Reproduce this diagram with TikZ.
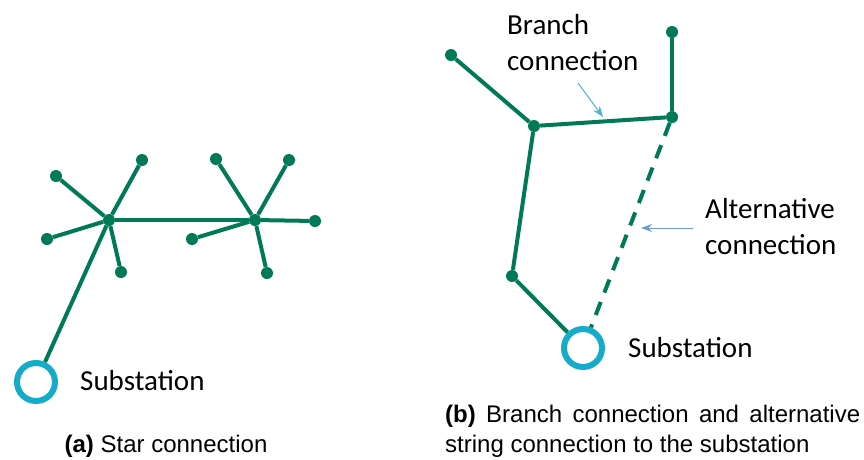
\documentclass[tikz,border=0pt]{standalone}
\usepackage{fontspec}
\setmainfont{Carlito}
\newfontfamily\capfont{Liberation Sans}
\usetikzlibrary{arrows.meta}
\definecolor{netgreen}{RGB}{0,122,86}
\definecolor{subcyan}{RGB}{20,172,200}
\definecolor{annocyan}{RGB}{70,180,210}
\definecolor{annoblue}{RGB}{110,155,215}
\tikzset{
  dot/.style={circle,fill=netgreen,inner sep=0pt,minimum size=12pt},
  edge/.style={draw=netgreen,line width=4pt},
  dashedge/.style={draw=netgreen,line width=4pt,dash pattern=on 14pt off 10pt},
  sub/.style={circle,draw=subcyan,line width=6pt,minimum size=38pt,inner sep=0pt},
  lbl/.style={inner sep=0pt,font=\fontsize{29}{36}\selectfont,align=left},
  captext/.style={inner sep=0pt,font=\capfont\fontsize{24}{29.5}\selectfont,align=left},
  annot/.style={line width=1pt,-{Stealth[length=11pt,width=8pt]}}
}
\begin{document}
\begin{tikzpicture}[x=1pt,y=-1pt]
\useasboundingbox (0,0) rectangle (864,459);
% ---------- (a) star ----------
\node[dot] (h1) at (109,220) {};
\node[dot] (h2) at (255,220) {};
\node[dot] (a1) at (56,176) {};
\node[dot] (a2) at (142,160) {};
\node[dot] (a3) at (47,239) {};
\node[dot] (a4) at (121,272) {};
\node[dot] (b1) at (216,159) {};
\node[dot] (b2) at (289,160) {};
\node[dot] (b3) at (315,221) {};
\node[dot] (b4) at (192,239) {};
\node[dot] (b5) at (267,273) {};
\node[sub] (sa) at (36,382) {};
\draw[edge] (h1) -- (h2);
\foreach \n in {a1,a2,a3,a4} \draw[edge] (h1) -- (\n);
\foreach \n in {b1,b2,b3,b4,b5} \draw[edge] (h2) -- (\n);
\draw[edge] (h1) -- (sa);
\node[lbl,anchor=base west] (sat) at (80,390) {Substation};
\node[captext,anchor=base] (capa) at (166,452) {\textbf{(a)} Star connection};
% ---------- (b) branch ----------
\node[dot] (c1) at (451,55) {};
\node[dot] (c2) at (534,126) {};
\node[dot] (c3) at (672,117) {};
\node[dot] (c4) at (672,32) {};
\node[dot] (c5) at (512,276) {};
\node[sub] (sb) at (583,348) {};
\draw[edge] (c1) -- (c2);
\draw[edge] (c2) -- (c3);
\draw[edge] (c3) -- (c4);
\draw[edge] (c2) -- (c5);
\draw[edge] (c5) -- (sb);
\draw[dashedge] (c3) -- (sb);
\node[lbl,anchor=base west] (brt) at (507,70) {Branch\\connection};
\coordinate (ba) at (578,83);
\coordinate (bh) at (603,117);
\draw[annot,annocyan] (ba) -- (bh);
\node[lbl,anchor=base west] (alt) at (705,254) {Alternative\\connection};
\coordinate (aa) at (693,228);
\coordinate (ah) at (641,228);
\draw[annot,annoblue] (aa) -- (ah);
\node[lbl,anchor=base west] (sbt) at (628,357) {Substation};
\node[captext,anchor=base west] (capb) at (445,452) {\makebox[415pt][s]{\textbf{(b)} Branch connection and alternative}\\string connection to the substation};
\end{tikzpicture}
\end{document}
